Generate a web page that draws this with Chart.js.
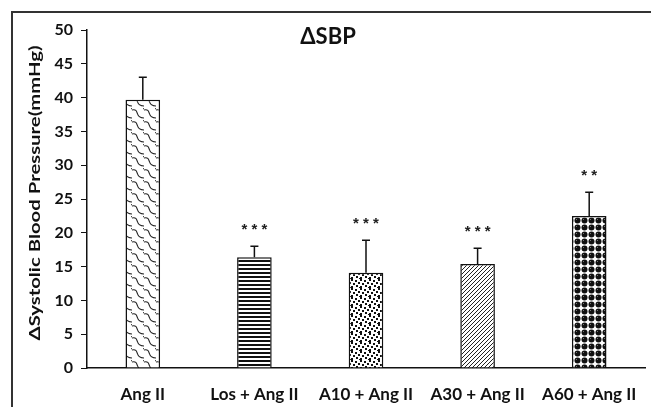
<!DOCTYPE html>
<html>
<head>
<meta charset="utf-8">
<script src="https://cdn.jsdelivr.net/npm/chart.js@4.4.0/dist/chart.umd.min.js"></script>
<style>
  html, body { margin: 0; padding: 0; background: #fff; }
  #wrap { width: 651px; height: 407px; }
</style>
</head>
<body>
<div id="wrap"><canvas id="sbpChart" width="651" height="407"></canvas></div>
<script>
// values
const groups = ['Ang II', 'Los + Ang II', 'A10 + Ang II', 'A30 + Ang II', 'A60 + Ang II'];
const meanSBP = [39.7, 16.4, 14.1, 15.4, 22.5];
const errSBP = [3.3, 1.6, 4.8, 2.3, 3.5];
const stars = ['', '***', '***', '***', '**'];
const yTicks = [0, 5, 10, 15, 20, 25, 30, 35, 40, 45, 50];

function makeTile(w, h, draw) {
  const c = document.createElement('canvas');
  c.width = w; c.height = h;
  const g = c.getContext('2d');
  g.fillStyle = '#fff';
  g.fillRect(0, 0, w, h);
  draw(g);
  return document.getElementById('sbpChart').getContext('2d').createPattern(c, 'repeat');
}

// curved "scales" for Ang II
const wavy = makeTile(12, 12, g => {
  g.strokeStyle = '#222';
  g.lineWidth = 1.1;
  g.beginPath();
  g.moveTo(0, 2);
  g.bezierCurveTo(8, 0, 2, 10, 12, 10);
  g.moveTo(-6, 8);
  g.bezierCurveTo(2, 6, -4, 16, 6, 16);
  g.moveTo(6, -4);
  g.bezierCurveTo(14, -6, 8, 4, 18, 4);
  g.stroke();
});
// horizontal stripes for Los
const stripes = makeTile(4, 4, g => {
  g.fillStyle = '#111';
  g.fillRect(0, 0, 4, 2);
});
// scattered dots for A10
const dots = makeTile(9, 9, g => {
  g.fillStyle = '#111';
  [[0, 0], [4, 1], [7, 3], [2, 4], [5, 6], [0, 7], [8, 8]].forEach(p => g.fillRect(p[0], p[1], 2, 2));
});
// diagonal hatch for A30
const hatch = makeTile(4, 4, g => {
  g.strokeStyle = '#222';
  g.lineWidth = 1;
  g.beginPath();
  g.moveTo(-1, 5); g.lineTo(5, -1);
  g.moveTo(-1, 1); g.lineTo(1, -1);
  g.moveTo(3, 5); g.lineTo(5, 3);
  g.stroke();
});
// dark balls for A60
const balls = makeTile(7, 7, g => {
  g.fillStyle = '#111';
  g.beginPath();
  g.arc(3.5, 3.5, 3, 0, Math.PI * 2);
  g.fill();
  g.fillStyle = '#777';
  g.fillRect(2, 2, 1, 1);
});

const fills = [wavy, stripes, dots, hatch, balls];

const extras = {
  id: 'extras',
  afterDatasetsDraw(chart) {
    const ctx = chart.ctx;
    const y = chart.scales.y;
    const meta = chart.getDatasetMeta(0);
    ctx.save();
    ctx.strokeStyle = '#111';
    ctx.lineWidth = 1.5;
    meta.data.forEach((bar, i) => {
      const top = y.getPixelForValue(meanSBP[i] + errSBP[i]);
      ctx.beginPath();
      ctx.moveTo(bar.x, bar.y);
      ctx.lineTo(bar.x, top);
      ctx.moveTo(bar.x - 4, top);
      ctx.lineTo(bar.x + 4, top);
      ctx.stroke();
      if (stars[i]) {
        ctx.fillStyle = '#222';
        ctx.font = 'bold 15px "Liberation Sans"';
        ctx.textAlign = 'center';
        ctx.textBaseline = 'middle';
        ctx.fillText(stars[i].split('').join(' '), bar.x, top - 16);
      }
    });
    // panel title
    ctx.fillStyle = '#111';
    ctx.font = 'bold 22px Lato';
    ctx.textAlign = 'center';
    ctx.textBaseline = 'middle';
    ctx.fillText('\u0394SBP', 328, 37);
    // y axis title, stretched along its length like the source figure
    const yTitle = '\u0394Systolic Blood Pressure(mmHg)';
    ctx.font = 'bold 15px Lato';
    const w = ctx.measureText(yTitle).width;
    ctx.save();
    ctx.translate(35, 193);
    ctx.rotate(-Math.PI / 2);
    ctx.scale(295 / w, 1);
    ctx.fillText(yTitle, 0, 0);
    ctx.restore();
    // frame
    ctx.strokeStyle = '#333';
    ctx.lineWidth = 2;
    ctx.beginPath();
    ctx.moveTo(651, 12);
    ctx.lineTo(12, 12);
    ctx.lineTo(12, 407);
    ctx.stroke();
    ctx.restore();
  }
};

new Chart(document.getElementById('sbpChart'), {
  type: 'bar',
  data: {
    labels: groups,
    datasets: [{
      data: meanSBP,
      backgroundColor: fills,
      borderColor: '#111',
      borderWidth: 1.5,
      barPercentage: 0.62,
      categoryPercentage: 0.5
    }]
  },
  plugins: [extras],
  options: {
    responsive: false,
    animation: false,
    layout: { padding: { left: 0, right: 6, top: 30, bottom: 0 } },
    plugins: { legend: { display: false }, tooltip: { enabled: false } },
    scales: {
      x: {
        grid: { display: false },
        border: { color: '#111', width: 1.5 },
        ticks: { color: '#111', padding: 8, font: { family: 'Lato', weight: 'bold', size: 17 } },
        afterFit(s) { s.height = 39; }
      },
      y: {
        min: 0,
        max: 50,
        afterBuildTicks(s) { s.ticks = yTicks.map(v => ({ value: v })); },
        grid: { drawOnChartArea: false, tickLength: 6, color: '#111', tickColor: '#111' },
        border: { color: '#111', width: 1.5 },
        ticks: { color: '#111', padding: 8, font: { family: 'Lato', weight: 'bold', size: 16 } },
        afterFit(s) { s.width = 87; }
      }
    }
  }
});
</script>
</body>
</html>
